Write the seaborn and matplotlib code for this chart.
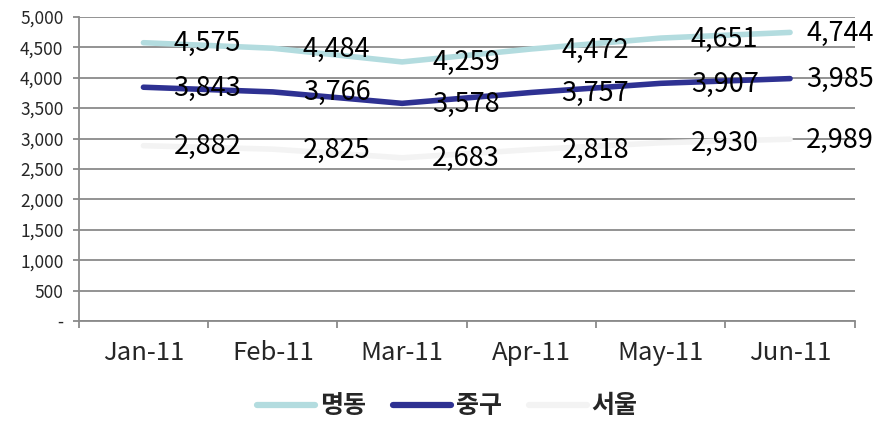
import pandas as pd
import numpy as np
import matplotlib
matplotlib.use('Agg')
import matplotlib.pyplot as plt
from matplotlib.ticker import FuncFormatter, FixedLocator
import seaborn as sns

# Dados
meses = ['Jan-11', 'Feb-11', 'Mar-11', 'Apr-11', 'May-11', 'Jun-11']
myeongdong = [4575, 4484, 4259, 4472, 4651, 4744]
junggu = [3843, 3766, 3578, 3757, 3907, 3985]
seoul = [2882, 2825, 2683, 2818, 2930, 2989]
series_names = ['명동', '중구', '서울']
cores = ['#b3dcdf', '#2e3192', '#f3f3f3']

df = pd.DataFrame({'mes': meses, '명동': myeongdong, '중구': junggu, '서울': seoul})
df['x'] = range(len(meses))
df_long = df.melt(id_vars=['mes', 'x'], value_vars=series_names,
                  var_name='serie', value_name='valor')

sns.set_style('white')
plt.rcParams['font.family'] = ['Noto Sans CJK KR', 'DejaVu Sans']

fig = plt.figure(figsize=(8.95, 4.21), dpi=100)
ax = fig.add_axes([0.088, 0.2375, 0.867, 0.7225])

sns.lineplot(data=df_long, x='x', y='valor', hue='serie', hue_order=series_names,
             palette=cores, linewidth=4, solid_capstyle='round', ax=ax, legend=True)

# rótulos de dados
for nome in series_names:
    valores = df[nome].values
    for i, v in enumerate(valores):
        dx = 30 if i < len(valores) - 1 else 16
        ax.annotate(f'{v:,}', (i, v), xytext=(dx, -1), textcoords='offset pixels',
                    ha='left', va='center', fontsize=19.5, color='black')

ax.set_xlim(-0.5, len(meses) - 0.5)
ax.set_ylim(0, 5000)
ax.set_yticks(np.arange(0, 5001, 500))
ax.yaxis.set_major_formatter(FuncFormatter(lambda v, p: '-' if v == 0 else f'{int(v):,}'))
ax.set_xticks(df['x'])
ax.set_xticklabels(meses)
ax.xaxis.set_minor_locator(FixedLocator(np.arange(-0.5, len(meses), 1)))

ax.grid(axis='y', color='#8a8a8a', linewidth=1.3)
ax.set_axisbelow(True)
for s in ['top', 'right']:
    ax.spines[s].set_visible(False)
for s in ['left', 'bottom']:
    ax.spines[s].set_color('#8a8a8a')
    ax.spines[s].set_linewidth(1.3)

ax.tick_params(axis='y', which='major', left=True, length=4, width=1.3, color='#8a8a8a',
               labelsize=12.5, pad=7)
ax.tick_params(axis='x', which='major', bottom=False, labelsize=18.5, pad=10)
ax.tick_params(axis='x', which='minor', bottom=True, length=5, width=1.3, color='#8a8a8a')
ax.set_xlabel('')
ax.set_ylabel('')

handles, labels = ax.get_legend_handles_labels()
for h in handles:
    h.set_linewidth(4.5)
ax.legend_.remove()
fig.legend(handles, labels, loc='center', bbox_to_anchor=(0.5, 0.035), ncol=3,
           frameon=False, handlelength=2.3, columnspacing=1.1,
           handletextpad=0.2, prop={'weight': 'bold', 'size': 18})

plt.savefig('out.png', dpi=100)
plt.close()
